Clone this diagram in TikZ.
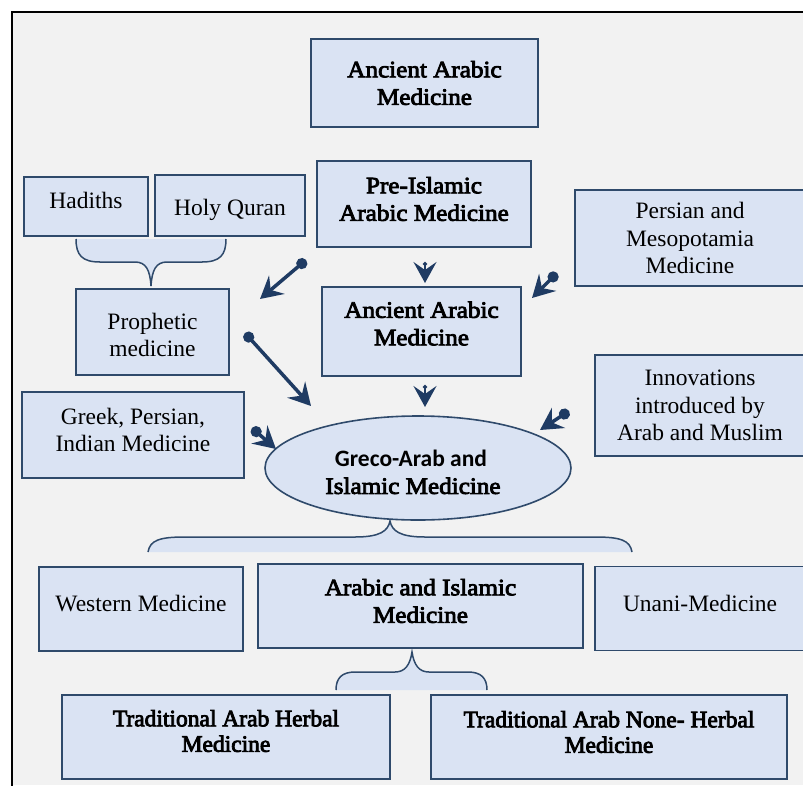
\documentclass[tikz,border=0pt]{standalone}
\usepackage{fontspec}
\setmainfont{Liberation Serif}
\newfontfamily\timesbold{Liberation Serif}[FakeBold=3.5,FakeStretch=1.07]
\newfontfamily\calfont{Carlito}[BoldFont={Carlito Bold}]
\newfontfamily\condfont{Liberation Serif}[FakeBold=3.5,FakeStretch=1.0]
\usepackage{tikz}
\usetikzlibrary{shapes.geometric,arrows.meta}
\definecolor{linecol}{HTML}{2F4A6B}
\definecolor{boxfill}{HTML}{DAE3F3}
\definecolor{arrcol}{HTML}{1F3B63}
\definecolor{bgcol}{HTML}{F2F2F2}
\newcommand{\boxsize}{\fontsize{23.5}{27.5}\selectfont}
\newcommand{\lift}[2]{\raisebox{#1}[\height][\depth]{#2}}

\begin{document}
\begin{tikzpicture}[x=1pt,y=-1pt]
    \tikzstyle{box}=[draw=linecol,line width=1.6pt,fill=boxfill,align=center,inner sep=0pt,font=\boxsize]
    \tikzstyle{boldbox}=[box,font=\timesbold\boxsize]
    \tikzstyle{condbox}=[box,font=\condfont\boxsize]
    \tikzstyle{arr}=[draw=arrcol,line width=3.5pt,{Circle[length=11pt]}-{Stealth[length=22pt,width=24pt,inset=8pt]}]
    \tikzstyle{tinyarr}=[draw=arrcol,line width=2pt,{Circle[length=4pt]}-{Stealth[length=21pt,width=23pt,inset=8pt]}]
    \tikzstyle{brace}=[draw=linecol,line width=1.5pt]
    \useasboundingbox (0,0) rectangle (803,785);
    \clip (0,0) rectangle (803,785);
    \fill[bgcol] (12,12) rectangle (803,785);
    \draw[black,line width=1.3pt] (12,800) -- (12,12) -- (820,12);
    % boxes
    \node[boldbox,minimum width=227pt,minimum height=88pt] (anc_top) at (424.5,83) {Ancient Arabic\\Medicine};
    \node[box,minimum width=124pt,minimum height=59pt] (hadith) at (86,206.5) {\lift{6pt}{Hadiths}};
    \node[box,minimum width=150pt,minimum height=61pt] (quran) at (230,205.5) {\lift{-4pt}{Holy Quran}};
    \node[boldbox,minimum width=214pt,minimum height=86pt] (pre) at (424,204) {\lift{5pt}{Pre-Islamic}\\\lift{5pt}{Arabic Medicine}};
    \node[box,minimum width=230pt,minimum height=96pt] (persian) at (690,238) {Persian and\\Mesopotamia\\Medicine};
    \node[box,minimum width=153pt,minimum height=86pt] (prophet) at (152.5,332) {\lift{-3pt}{Prophetic}\\\lift{-3pt}{medicine}};
    \node[boldbox,minimum width=199pt,minimum height=89pt] (anc_mid) at (421.5,331.5) {\lift{8pt}{Ancient Arabic}\\\lift{8pt}{Medicine}};
    \node[box,minimum width=210pt,minimum height=101pt] (innov) at (700,405.5) {Innovations\\introduced by\\Arab and Muslim};
    \node[box,minimum width=222pt,minimum height=86pt] (greek) at (133,435) {\lift{5pt}{Greek, Persian,}\\\lift{5pt}{Indian Medicine}};
    \node[boldbox,ellipse,minimum width=306pt,minimum height=104pt] (greco) at (418,468)
        {\lift{-4pt}{\calfont\fontsize{23.5}{27.5}\selectfont\bfseries Greco-Arab and}\hspace*{14pt}\\\lift{-4pt}{Islamic Medicine}\hspace*{10pt}};
    \node[box,minimum width=204pt,minimum height=84pt] (western) at (141,609) {\lift{5pt}{Western Medicine}};
    \node[boldbox,minimum width=325pt,minimum height=84pt] (arabic) at (420.5,606) {\lift{5pt}{Arabic and Islamic}\\\lift{5pt}{Medicine}};
    \node[box,minimum width=210pt,minimum height=84pt] (unani) at (700,608.5) {\lift{5pt}{Unani-Medicine}};
    \node[condbox,minimum width=328pt,minimum height=84pt] (herbal) at (226,737) {\lift{5pt}{Traditional Arab Herbal}\\\lift{7pt}{Medicine}};
    \node[condbox,minimum width=356pt,minimum height=84pt] (nonherbal) at (609,737) {\lift{4pt}{Traditional Arab None- Herbal}\\\lift{6pt}{Medicine}};
    % brace under Hadiths and Holy Quran
    \fill[boxfill] (76,239) .. controls (76,255) and (82,262) .. (100,262) -- (135,262)
        .. controls (146,262) and (150,270) .. (151,286) .. controls (152,270) and (156,262) .. (167,262)
        -- (202,262) .. controls (220,262) and (226,255) .. (226,239) -- cycle;
    \draw[brace] (76,239) .. controls (76,255) and (82,262) .. (100,262) -- (135,262)
        .. controls (146,262) and (150,270) .. (151,286) .. controls (152,270) and (156,262) .. (167,262)
        -- (202,262) .. controls (220,262) and (226,255) .. (226,239);
    % brace under the ellipse
    \fill[boxfill] (148,552) .. controls (150,540) and (160,537) .. (185,537) -- (355,537)
        .. controls (380,537) and (388,531) .. (390,521) .. controls (392,531) and (400,537) .. (425,537)
        -- (595,537) .. controls (620,537) and (630,540) .. (632,552) -- cycle;
    \draw[brace] (148,552) .. controls (150,540) and (160,537) .. (185,537) -- (355,537)
        .. controls (380,537) and (388,531) .. (390,521) .. controls (392,531) and (400,537) .. (425,537)
        -- (595,537) .. controls (620,537) and (630,540) .. (632,552);
    % brace under Arabic and Islamic Medicine
    \fill[boxfill] (336,690) .. controls (336,678) and (342,672) .. (355,672) -- (395,672)
        .. controls (405,672) and (410,665) .. (412,652) .. controls (414,665) and (419,672) .. (429,672)
        -- (468,672) .. controls (481,672) and (487,678) .. (487,690) -- cycle;
    \draw[brace] (336,690) .. controls (336,678) and (342,672) .. (355,672) -- (395,672)
        .. controls (405,672) and (410,665) .. (412,652) .. controls (414,665) and (419,672) .. (429,672)
        -- (468,672) .. controls (481,672) and (487,678) .. (487,690);
    % arrow ends
    \coordinate (a1s) at (306,260); \coordinate (a1e) at (260,299);
    \coordinate (a2s) at (245,333); \coordinate (a2e) at (311,406);
    \coordinate (a3s) at (557,273); \coordinate (a3e) at (532,298);
    \coordinate (a4s) at (569,411); \coordinate (a4e) at (540,430);
    \coordinate (a5s) at (252,428); \coordinate (a5e) at (276,449);
    \coordinate (d1s) at (425,262); \coordinate (d1e) at (425,283);
    \coordinate (d2s) at (425,385); \coordinate (d2e) at (425,407);
    \draw[arr] (a1s) -- (a1e);
    \draw[arr] (a2s) -- (a2e);
    \draw[arr] (a3s) -- (a3e);
    \draw[arr] (a4s) -- (a4e);
    \draw[arr] (a5s) -- (a5e);
    \draw[tinyarr] (d1s) -- (d1e);
    \draw[tinyarr] (d2s) -- (d2e);
\end{tikzpicture}
\end{document}
